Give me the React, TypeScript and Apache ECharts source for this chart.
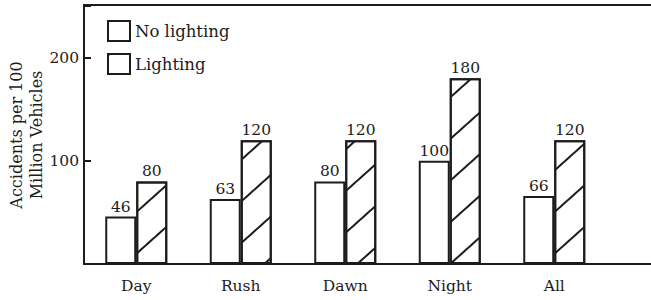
import React, { useEffect, useRef } from "react";
import * as echarts from "echarts";

const categories = ["Day", "Rush", "Dawn", "Night", "All"];
const noLighting = [46, 63, 80, 100, 66];
const lighting = [80, 120, 120, 180, 120];
const yTicks = [100, 200];

const FONT = "DejaVu Serif";
const INK = "#1c1c1c";

export default function App() {
  const ref = useRef<HTMLDivElement>(null);
  useEffect(() => {
    if (!ref.current) return;
    const chart = echarts.init(ref.current, undefined, { renderer: "svg" });
    chart.setOption({
      animation: false,
      backgroundColor: "#ffffff",
      grid: { left: 84, right: 44.5, top: 6, bottom: 36, containLabel: false, outerBoundsMode: "none" },
      legend: {
        orient: "vertical",
        left: 102,
        top: 15,
        itemWidth: 22,
        itemHeight: 20,
        itemGap: 11,
        icon: "rect",
        textStyle: { fontFamily: FONT, fontSize: 16.5, color: INK, padding: [0, 0, 0, 0] },
        data: ["No lighting", "Lighting"],
      },
      xAxis: {
        type: "category",
        data: categories,
        axisLine: { show: true, lineStyle: { color: INK, width: 2 } },
        axisTick: { show: false },
        axisLabel: { fontFamily: FONT, fontSize: 15.5, color: INK, margin: 14 },
      },
      yAxis: {
        type: "value",
        min: 0,
        max: 250,
        interval: 100,
        name: "Accidents per 100\nMillion Vehicles",
        nameLocation: "middle",
        nameGap: 38,
        nameMoveOverlap: false,
        nameRotate: 90,
        nameTextStyle: { fontFamily: FONT, fontSize: 16, color: INK, lineHeight: 20 },
        splitLine: { show: false },
        axisLine: { show: true, lineStyle: { color: INK, width: 2 } },
        axisTick: { show: true, inside: true, length: 7, lineStyle: { color: INK, width: 2 } },
        axisLabel: {
          fontFamily: FONT,
          fontSize: 15.5,
          color: INK,
          margin: 5,
          formatter: (v: number) => (yTicks.includes(v) ? String(v) : ""),
        },
      },
      graphic: [
        { type: "line", shape: { x1: 83, y1: 5, x2: 651, y2: 5 }, style: { stroke: INK, lineWidth: 2 } },
        { type: "line", shape: { x1: 600, y1: 264, x2: 651, y2: 264 }, style: { stroke: INK, lineWidth: 2 } },
      ],
      series: [
        {
          name: "No lighting",
          type: "bar",
          data: noLighting,
          barWidth: 31,
          barGap: "0%",
          itemStyle: { color: "#ffffff", borderColor: INK, borderWidth: 2 },
          label: { show: true, position: "top", distance: 2, fontFamily: FONT, fontSize: 15.5, color: INK },
        },
        {
          name: "Lighting",
          type: "bar",
          data: lighting,
          barWidth: 31,
          barGap: "0%",
          itemStyle: {
            color: "#ffffff",
            borderColor: INK,
            borderWidth: 2,
            decal: {
              symbol: "rect",
              symbolSize: 1,
              dashArrayX: [1, 0],
              dashArrayY: [2, 29],
              rotation: -Math.PI / 4.3,
              color: INK,
              backgroundColor: "#ffffff",
            },
          },
          label: { show: true, position: "top", distance: 2, fontFamily: FONT, fontSize: 15.5, color: INK },
        },
      ],
    });
    return () => chart.dispose();
  }, []);
  return <div ref={ref} style={{ width: 651, height: 300, position: "absolute", left: 0, top: 0 }} />;
}
